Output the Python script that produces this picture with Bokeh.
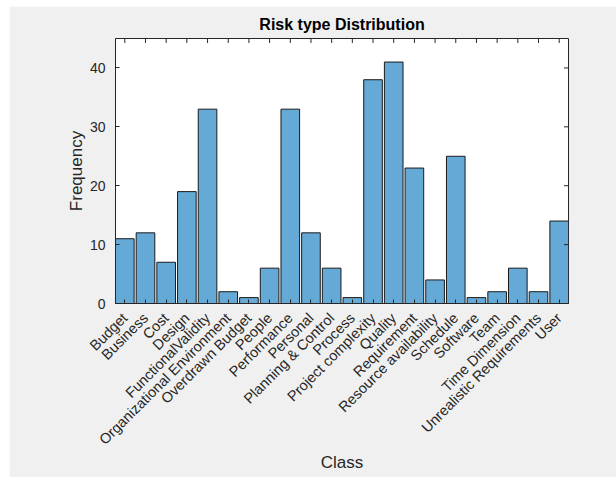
import math
from bokeh.plotting import figure
from bokeh.models import ColumnDataSource, Range1d, FixedTicker
from bokeh.embed import file_html
from bokeh.resources import INLINE

categories = ["Budget", "Business", "Cost", "Design", "FunctionalValidity",
              "Organizational Environment", "Overdrawn Budget", "People",
              "Performance", "Personal", "Planning & Control", "Process",
              "Project complexity", "Quality", "Requirement",
              "Resource availability", "Schedule", "Software", "Team",
              "Time Dimension", "Unrealistic Requirements", "User"]
frequency = [11, 12, 7, 19, 33, 2, 1, 6, 33, 12, 6, 1, 38, 41, 23, 4, 25, 1, 2, 6, 2, 14]
y_ticks = [0, 10, 20, 30, 40]
y_max = 45

positions = list(range(1, len(categories) + 1))
x_lo, x_hi = 0.55, len(categories) + 0.45
src = ColumnDataSource(dict(x=positions, top=frequency))

FONT = "Liberation Sans"
GREY = "#f0f0f0"
TXT = "#262626"

p = figure(width=607, height=471, output_backend="svg", toolbar_location=None,
           x_range=Range1d(x_lo, x_hi), y_range=Range1d(0, y_max),
           title="Risk type Distribution",
           min_border_left=106, min_border_right=48, min_border_top=32,
           min_border_bottom=174)
p.styles = {"margin-left": "9px", "margin-top": "6px"}

p.vbar(x="x", top="top", width=0.9, source=src, fill_color="#65a9d7",
       line_color="#1a1a1a", line_width=1)

# tick marks on the top and right edges of the box
p.scatter(x=positions, y=[y_max] * len(positions), marker="dash", angle=math.pi / 2,
          size=9, line_color=TXT, line_width=1)
p.scatter(x=[x_hi] * len(y_ticks), y=y_ticks, marker="dash", size=9,
          line_color=TXT, line_width=1)

p.background_fill_color = "white"
p.border_fill_color = GREY
p.outline_line_color = TXT
p.xgrid.visible = False
p.ygrid.visible = False

p.title.text_font = FONT
p.title.text_font_size = "16px"
p.title.text_font_style = "bold"
p.title.text_color = "#000000"
p.title.align = "center"
p.title.standoff = 12

xa = p.xaxis[0]
xa.ticker = FixedTicker(ticks=positions)
xa.major_label_overrides = {i: c for i, c in zip(positions, categories)}
xa.major_label_orientation = math.pi / 4
xa.axis_label = "Class"

ya = p.yaxis[0]
ya.ticker = FixedTicker(ticks=y_ticks)
ya.axis_label = "Frequency"

for ax in [xa, ya]:
    ax.axis_line_color = TXT
    ax.major_tick_in = 4
    ax.major_tick_out = 0
    ax.minor_tick_line_color = None
    ax.major_tick_line_color = TXT
    ax.major_label_text_font = FONT
    ax.major_label_text_color = TXT
    ax.axis_label_text_font = FONT
    ax.axis_label_text_font_size = "17px"
    ax.axis_label_text_font_style = "normal"
    ax.axis_label_text_color = TXT

xa.major_label_text_font_size = "14.5px"
ya.major_label_text_font_size = "14px"
xa.major_label_standoff = 12
ya.major_label_standoff = 10
ya.axis_label_standoff = 1
xa.axis_label_standoff = -3

open("out.html", "w").write(file_html(p, INLINE))
